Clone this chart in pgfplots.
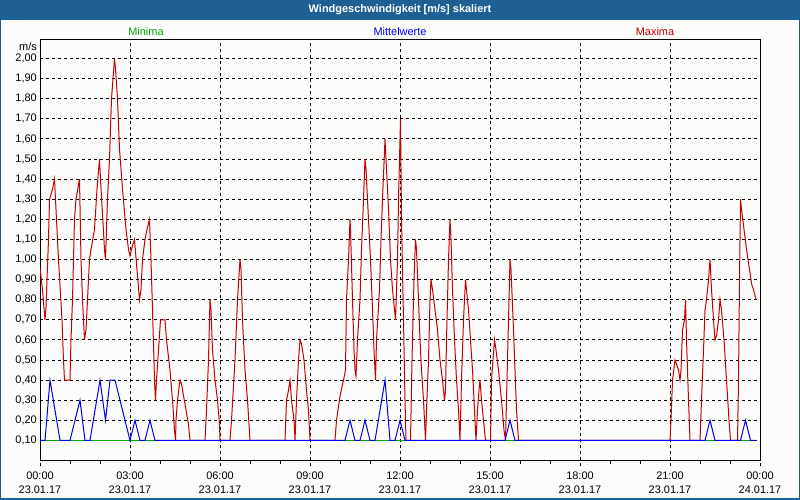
\documentclass[border=0pt]{standalone}
\usepackage{pgfplots}
\pgfplotsset{compat=1.18}
\usepackage{fontspec}
\setmainfont{Liberation Sans}
\definecolor{barblue}{RGB}{30,96,148}
\definecolor{bgc}{RGB}{252,253,251}
\definecolor{maxred}{RGB}{196,0,0}
\definecolor{minigreen}{RGB}{0,170,0}
\definecolor{meanblue}{RGB}{0,0,240}
\begin{document}
\begin{tikzpicture}[x=1bp,y=1bp]
\fill[barblue] (0,0) rectangle (800,500);
\fill[bgc] (1.5,1.5) rectangle (798.5,480);
\node[font=\fontsize{11}{13}\selectfont\bfseries, text=white] at (400,490) {Windgeschwindigkeit [m/s] skaliert};
\node[font=\fontsize{11}{13}\selectfont, text=minigreen] at (146,468) {Minima};
\node[font=\fontsize{11}{13}\selectfont, text=meanblue] at (400,468) {Mittelwerte};
\node[font=\fontsize{11}{13}\selectfont, text=maxred] at (655,468) {Maxima};
\node[font=\fontsize{11}{13}\selectfont, anchor=east, inner sep=0pt] at (37,453) {m/s};
\begin{axis}[
  at={(40bp,39.5bp)}, anchor=south west,
  width=720bp, height=421bp, scale only axis,
  xmin=0, xmax=1440, ymin=0, ymax=2.095,
  axis line style={line width=1bp, black},
  tick align=outside, tick pos=left,
  major tick length=6bp, minor tick length=4bp,
  xtick={0,180,360,540,720,900,1080,1260,1440},
  xticklabels={{00:00\\23.01.17},{03:00\\23.01.17},{06:00\\23.01.17},{09:00\\23.01.17},{12:00\\23.01.17},{15:00\\23.01.17},{18:00\\23.01.17},{21:00\\23.01.17},{00:00\\24.01.17}},
  minor xtick={60,120,240,300,420,480,600,660,780,840,960,1020,1140,1200,1320,1380},
  xticklabel style={align=center, font=\fontsize{11}{14}\selectfont, inner sep=0pt, yshift=-5bp},
  ytick={0.1,0.2,0.3,0.4,0.5,0.6,0.7,0.8,0.9,1.0,1.1,1.2,1.3,1.4,1.5,1.6,1.7,1.8,1.9,2.0},
  yticklabel style={font=\fontsize{11}{13}\selectfont, inner sep=0pt, xshift=3bp,
    /pgf/number format/.cd, fixed, fixed zerofill, precision=2, use comma, assume math mode=true},
  ytick style={draw=none},
  xtick style={black, line width=1bp, dash pattern=on 3bp off 3bp},
  minor tick style={black, line width=1bp, solid},
  grid=major,
  major grid style={black, line width=1bp, dash pattern=on 3bp off 3bp},
  axis on top=false,
]
\addplot[minigreen, line width=1bp] coordinates {(0,0.1) (1430,0.1)};
\addplot[maxred, line width=1bp] coordinates {
(0,0.96) (5,0.85) (10,0.70) (12,0.76) (14,0.90) (17,1.10) (19,1.30) (25,1.35) (29,1.40)
(33,1.20) (37,1.00) (41,0.83) (44,0.70) (47,0.50) (49,0.40) (60,0.40) (62,0.60) (65,0.80)
(69,1.20) (72,1.30) (79,1.40) (82,1.00) (85,0.80) (89,0.60) (92,0.65) (95,0.80) (99,1.00)
(102,1.05) (109,1.15) (114,1.35) (119,1.50) (121,1.40) (129,1.05) (131,1.00) (135,1.30)
(139,1.50) (143,1.80) (149,2.00) (151,1.95) (155,1.80) (159,1.55) (165,1.35) (172,1.15)
(177,1.05) (180,1.02) (185,1.07) (189,1.10) (194,0.95) (199,0.80) (202,0.85) (205,1.00)
(210,1.10) (214,1.15) (219,1.20) (222,1.00) (225,0.75) (229,0.40) (231,0.30) (233,0.40)
(237,0.55) (241,0.70) (250,0.70) (253,0.60) (260,0.45) (265,0.30) (269,0.15) (271,0.10)
(272,0.20) (275,0.30) (280,0.40) (283,0.38) (290,0.28) (297,0.18) (300,0.10) (330,0.10)
(333,0.25) (337,0.50) (340,0.80) (342,0.75) (345,0.55) (350,0.40) (355,0.30) (359,0.18)
(360,0.10) (380,0.10) (383,0.20) (390,0.50) (395,0.80) (400,1.00) (402,0.95) (405,0.70)
(410,0.45) (415,0.30) (420,0.10) (490,0.10) (493,0.30) (497,0.35) (500,0.40) (503,0.30)
(508,0.20) (510,0.10) (513,0.30) (517,0.50) (520,0.60) (523,0.58) (528,0.50) (533,0.35)
(537,0.25) (540,0.10) (590,0.10) (593,0.20) (600,0.32) (607,0.40) (611,0.45) (613,0.80)
(617,1.00) (620,1.20) (621,1.15) (625,0.80) (628,0.55) (630,0.45) (632,0.42) (635,0.60)
(640,0.80) (643,1.05) (647,1.30) (650,1.50) (652,1.45) (657,1.20) (661,1.00) (665,0.75)
(668,0.55) (671,0.40) (673,0.60) (679,0.85) (682,1.10) (685,1.30) (690,1.60) (692,1.50)
(697,1.25) (701,1.00) (705,0.85) (709,0.75) (711,0.70) (715,1.00) (717,1.30) (720,1.60)
(721,1.70) (723,1.20) (727,0.70) (730,0.30) (732,0.10) (741,0.10) (744,0.50) (748,0.90)
(751,1.10) (753,1.05) (757,0.80) (760,0.60) (763,0.45) (767,0.30) (771,0.10) (773,0.25)
(777,0.50) (780,0.80) (782,0.90) (785,0.85) (790,0.75) (795,0.65) (800,0.50) (805,0.40)
(809,0.30) (811,0.35) (813,0.60) (817,1.00) (820,1.20) (822,1.10) (825,0.85) (829,0.60)
(833,0.40) (837,0.25) (840,0.10) (843,0.40) (847,0.70) (851,0.90) (853,0.85) (857,0.75)
(861,0.60) (865,0.45) (868,0.30) (871,0.15) (872,0.10) (875,0.25) (878,0.35) (880,0.40)
(883,0.30) (887,0.20) (891,0.10) (901,0.10) (903,0.40) (909,0.60) (912,0.55) (917,0.45)
(923,0.30) (928,0.15) (931,0.10) (933,0.30) (937,0.70) (940,1.00) (942,0.95) (947,0.65)
(950,0.45) (953,0.25) (957,0.10) (1260,0.10) (1262,0.20) (1265,0.40) (1270,0.50)
(1273,0.48) (1277,0.45) (1280,0.40) (1282,0.45) (1285,0.65) (1289,0.70) (1291,0.80)
(1293,0.60) (1297,0.30) (1300,0.10) (1320,0.10) (1323,0.30) (1327,0.55) (1330,0.75)
(1333,0.80) (1337,0.90) (1340,1.00) (1343,0.85) (1347,0.70) (1350,0.60) (1353,0.62)
(1357,0.70) (1360,0.80) (1363,0.75) (1368,0.60) (1373,0.40) (1378,0.20) (1381,0.10)
(1395,0.10) (1397,0.40) (1399,0.90) (1401,1.30) (1403,1.25) (1408,1.15) (1413,1.05)
(1419,0.95) (1423,0.88) (1427,0.85) (1432,0.80)
};
\addplot[meanblue, line width=1bp] coordinates {
(0,0.10) (10,0.10) (20,0.40) (40,0.10) (60,0.10) (80,0.30) (90,0.10) (100,0.10)
(120,0.40) (131,0.20) (140,0.40) (150,0.40) (180,0.10) (190,0.20) (200,0.10) (210,0.10)
(220,0.20) (230,0.10) (610,0.10) (620,0.20) (630,0.10) (640,0.10) (650,0.20) (660,0.10)
(670,0.10) (690,0.40) (700,0.10) (710,0.10) (720,0.20) (730,0.10) (930,0.10) (940,0.20)
(950,0.10) (1330,0.10) (1340,0.20) (1350,0.10) (1401,0.10) (1411,0.20) (1421,0.10)
(1430,0.10)
};
\end{axis}
\end{tikzpicture}
\end{document}
